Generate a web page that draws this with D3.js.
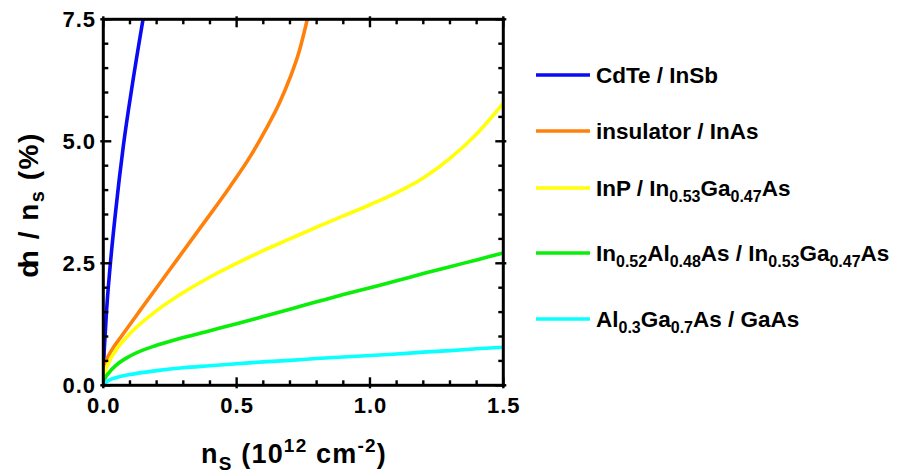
<!DOCTYPE html>
<html>
<head>
<meta charset="utf-8">
<script src="https://cdn.jsdelivr.net/npm/d3@7"></script>
<style>
  html, body { margin: 0; padding: 0; background: #ffffff; }
  svg { display: block; font-family: "Liberation Sans", Arial, Helvetica, sans-serif; font-weight: bold; }
</style>
</head>
<body>
<svg id="chart" width="901" height="474"></svg>
<script>
// Sheet density n_s (10^12 cm^-2) and relative fluctuation dn/n_s (%) per heterostructure
const nsCdTeInSb = [0, 0.002, 0.006, 0.0125, 0.025, 0.045, 0.075, 0.11, 0.149];
const dnCdTeInSb = [0, 0.5, 0.95, 1.55, 2.4, 3.5, 4.9, 6.2, 7.5];

const nsInsulatorInAs = [0, 0.002, 0.006, 0.013, 0.035, 0.07, 0.14, 0.24, 0.36, 0.475, 0.55, 0.61, 0.66, 0.70, 0.735, 0.765];
const dnInsulatorInAs = [0, 0.22, 0.4, 0.52, 0.75, 1.02, 1.55, 2.3, 3.2, 4.07, 4.68, 5.25, 5.78, 6.3, 6.85, 7.5];

const nsInPInGaAs = [0, 0.004, 0.02, 0.05, 0.1, 0.2, 0.3, 0.4, 0.5, 0.6, 0.7, 0.8, 0.9, 1.0, 1.1, 1.2, 1.3, 1.4, 1.5];
const dnInPInGaAs = [0, 0.2, 0.46, 0.74, 1.06, 1.53, 1.9, 2.22, 2.5, 2.76, 3.0, 3.24, 3.47, 3.7, 3.95, 4.25, 4.65, 5.15, 5.78];

const nsInAlAsInGaAs = [0, 0.005, 0.02, 0.05, 0.1, 0.2, 0.3, 0.4, 0.5, 0.6, 0.7, 0.8, 0.9, 1.0, 1.1, 1.2, 1.3, 1.4, 1.5];
const dnInAlAsInGaAs = [0, 0.12, 0.25, 0.42, 0.6, 0.82, 0.98, 1.12, 1.26, 1.41, 1.56, 1.71, 1.86, 2.0, 2.14, 2.29, 2.43, 2.57, 2.71];

const nsAlGaAsGaAs = [0, 0.005, 0.02, 0.05, 0.1, 0.2, 0.3, 0.4, 0.5, 0.6, 0.7, 0.8, 0.9, 1.0, 1.1, 1.2, 1.3, 1.4, 1.5];
const dnAlGaAsGaAs = [0, 0.04, 0.1, 0.16, 0.22, 0.3, 0.36, 0.4, 0.44, 0.48, 0.51, 0.55, 0.58, 0.61, 0.64, 0.68, 0.71, 0.75, 0.78];

// Axis ticks
const xMajorTicks = [0, 0.5, 1.0, 1.5];
const xTickLabels = ["0.0", "0.5", "1.0", "1.5"];
const xMinorTicks = [0.1, 0.2, 0.3, 0.4, 0.6, 0.7, 0.8, 0.9, 1.1, 1.2, 1.3, 1.4];
const yMajorTicks = [0, 2.5, 5.0, 7.5];
const yTickLabels = ["0.0", "2.5", "5.0", "7.5"];
const yMinorTicks = [0.5, 1.0, 1.5, 2.0, 3.0, 3.5, 4.0, 4.5, 5.5, 6.0, 6.5, 7.0];

// Legend labels: segments of [text, isSubscript]
const legendLabels = [
  [["CdTe / InSb", 0]],
  [["insulator / InAs", 0]],
  [["InP / In", 0], ["0.53", 1], ["Ga", 0], ["0.47", 1], ["As", 0]],
  [["In", 0], ["0.52", 1], ["Al", 0], ["0.48", 1], ["As / In", 0], ["0.53", 1], ["Ga", 0], ["0.47", 1], ["As", 0]],
  [["Al", 0], ["0.3", 1], ["Ga", 0], ["0.7", 1], ["As / GaAs", 0]]
];
const seriesColors = ["#0a0af5", "#ff800a", "#ffff0a", "#0aee0a", "#0affff"];

const seriesNs = [nsCdTeInSb, nsInsulatorInAs, nsInPInGaAs, nsInAlAsInGaAs, nsAlGaAsGaAs];
const seriesDn = [dnCdTeInSb, dnInsulatorInAs, dnInPInGaAs, dnInAlAsInGaAs, dnAlGaAsGaAs];

// ---- drawing ----
const svg = d3.select("#chart");
const plot = { left: 103.3, right: 503.3, top: 19.3, bottom: 385.3 };

const x = d3.scaleLinear().domain([0, 1.5]).range([plot.left, plot.right]);
const y = d3.scaleLinear().domain([0, 7.5]).range([plot.bottom, plot.top]);

svg.append("defs").append("clipPath").attr("id", "plot-clip")
  .append("rect")
  .attr("x", plot.left).attr("y", plot.top)
  .attr("width", plot.right - plot.left).attr("height", plot.bottom - plot.top);

const line = d3.line()
  .x(d => x(d[0]))
  .y(d => y(d[1]))
  .curve(d3.curveMonotoneX);

const lineWidth = 3.6;
const curves = svg.append("g").attr("clip-path", "url(#plot-clip)");
seriesNs.forEach((ns, i) => {
  const pts = ns.map((v, k) => [v, seriesDn[i][k]]);
  curves.append("path")
    .datum(pts)
    .attr("fill", "none")
    .attr("stroke", seriesColors[i])
    .attr("stroke-width", lineWidth)
    .attr("stroke-linejoin", "round")
    .attr("stroke-linecap", "round")
    .attr("d", line);
});

// Frame and ticks (mirrored on all four sides, pointing inward)
const axes = svg.append("g").attr("stroke", "#000").attr("stroke-width", 2.4);
const majIn = 8, majOut = 3, minIn = 5;

xMajorTicks.forEach(v => {
  axes.append("line").attr("x1", x(v)).attr("x2", x(v)).attr("y1", plot.bottom + majOut).attr("y2", plot.bottom - majIn);
  axes.append("line").attr("x1", x(v)).attr("x2", x(v)).attr("y1", plot.top - majOut).attr("y2", plot.top + majIn);
});
xMinorTicks.forEach(v => {
  axes.append("line").attr("x1", x(v)).attr("x2", x(v)).attr("y1", plot.bottom).attr("y2", plot.bottom - minIn);
  axes.append("line").attr("x1", x(v)).attr("x2", x(v)).attr("y1", plot.top).attr("y2", plot.top + minIn);
});
yMajorTicks.forEach(v => {
  axes.append("line").attr("y1", y(v)).attr("y2", y(v)).attr("x1", plot.left - majOut).attr("x2", plot.left + majIn);
  axes.append("line").attr("y1", y(v)).attr("y2", y(v)).attr("x1", plot.right + majOut).attr("x2", plot.right - majIn);
});
yMinorTicks.forEach(v => {
  axes.append("line").attr("y1", y(v)).attr("y2", y(v)).attr("x1", plot.left).attr("x2", plot.left + minIn);
  axes.append("line").attr("y1", y(v)).attr("y2", y(v)).attr("x1", plot.right).attr("x2", plot.right - minIn);
});
axes.append("rect")
  .attr("x", plot.left).attr("y", plot.top)
  .attr("width", plot.right - plot.left).attr("height", plot.bottom - plot.top)
  .attr("fill", "none").attr("stroke-width", 3);

// Tick labels
const tickFont = 22;
svg.append("g").selectAll("text").data(xMajorTicks).join("text")
  .attr("x", d => x(d) + 0.5).attr("y", 413)
  .attr("text-anchor", "middle")
  .attr("font-size", tickFont)
  .attr("letter-spacing", 1)
  .text((d, i) => xTickLabels[i]);

svg.append("g").selectAll("text").data(yMajorTicks).join("text")
  .attr("x", 96).attr("y", d => y(d))
  .attr("dy", "0.36em")
  .attr("text-anchor", "end")
  .attr("font-size", tickFont)
  .attr("letter-spacing", 1)
  .text((d, i) => yTickLabels[i]);

// X axis title: n_S (10^12 cm^-2)
const xt = svg.append("text")
  .attr("x", 294).attr("y", 463)
  .attr("text-anchor", "middle")
  .attr("font-size", 27)
  .attr("letter-spacing", 1.2);
xt.append("tspan").text("n");
xt.append("tspan").attr("font-size", 19).attr("dy", 7).text("S");
xt.append("tspan").attr("dy", -7).text(" (10");
xt.append("tspan").attr("font-size", 19).attr("dy", -11).text("12");
xt.append("tspan").attr("dy", 11).text(" cm");
xt.append("tspan").attr("font-size", 19).attr("dy", -11).text("-2");
xt.append("tspan").attr("dy", 11).text(")");

// Y axis title: dn / n_s (%)
const yt = svg.append("text")
  .attr("transform", "translate(38,205) rotate(-90)")
  .attr("text-anchor", "middle")
  .attr("font-size", 28)
  .attr("letter-spacing", 1.5);
yt.append("tspan").text("d");
yt.append("tspan").attr("dx", -8).text("n / n");
yt.append("tspan").attr("font-size", 20).attr("dy", 6).text("s");
yt.append("tspan").attr("dy", -6).text(" (%)");

// Legend
const legendY = [75, 131, 188, 253, 319];
const legend = svg.append("g");
legendLabels.forEach((segs, i) => {
  const ly = legendY[i];
  legend.append("line")
    .attr("x1", 536).attr("x2", 590).attr("y1", ly).attr("y2", ly)
    .attr("stroke", seriesColors[i]).attr("stroke-width", lineWidth);
  const t = legend.append("text")
    .attr("x", 596).attr("y", ly + 8)
    .attr("font-size", 22.5);
  let shifted = false;
  segs.forEach(([s, sub]) => {
    const ts = t.append("tspan").text(s);
    if (sub && !shifted) { ts.attr("font-size", 16).attr("dy", 6); shifted = true; }
    else if (sub) { ts.attr("font-size", 16); }
    else if (shifted) { ts.attr("dy", -6); shifted = false; }
  });
});
</script>
</body>
</html>
